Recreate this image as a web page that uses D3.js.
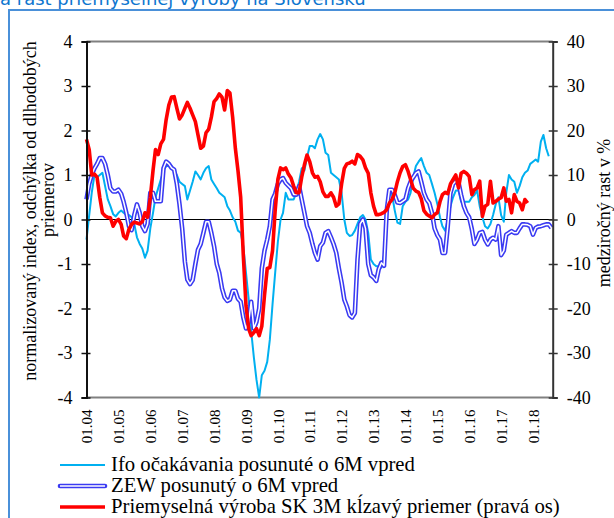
<!DOCTYPE html>
<html>
<head>
<meta charset="utf-8">
<script src="https://cdn.jsdelivr.net/npm/d3@7"></script>
<style>
  html, body { margin: 0; padding: 0; background: #fff; }
  svg { display: block; }
</style>
</head>
<body>
<svg id="chart" width="614" height="518"></svg>
<script>
// ---------------- DATA ----------------
const titleText = "a rast priemyselnej výroby na Slovensku";
const startMonth = "2004-01";
const seriesNames = [
  "Ifo očakávania posunuté o 6M vpred",
  "ZEW posunutý o 6M vpred",
  "Priemyselná výroba SK 3M kĺzavý priemer (pravá os)"
];
const leftAxisTitle = ["normalizovaný index, odchýlka od dlhodobých", "priemerov"];
const rightAxisTitle = "medziročný rast v %";
const leftTicks = [-4, -3, -2, -1, 0, 1, 2, 3, 4];
const rightTicks = [-40, -30, -20, -10, 0, 10, 20, 30, 40];
const xTickYears = [2004,2005,2006,2007,2008,2009,2010,2011,2012,2013,2014,2015,2016,2017,2018];

// Ifo expectations (monthly, from 01.04)
const ifo = [
 -0.45,0.1,0.6,1.0,0.95,1.0,1.05,0.75,0.45,0.3,0.12,0.07,
 0.15,0.2,0.15,0.1,0.1,0.05,-0.1,-0.4,-0.55,-0.65,-0.86,-0.7,
 -0.2,0.15,0.5,0.7,0.9,1.1,1.2,1.2,1.2,1.1,1.0,0.85,
 0.8,0.75,0.45,0.65,0.85,1.08,1.0,0.9,1.05,1.15,1.2,0.9,
 0.8,0.7,0.6,0.55,0.5,0.3,0.2,0.05,-0.05,-0.25,-0.3,-0.6,
 -1.2,-1.8,-2.5,-3.1,-3.6,-4.0,-3.5,-3.4,-3.2,-2.7,-1.9,-1.2,
 -0.5,0.0,0.15,0.6,0.45,0.45,0.45,0.6,0.85,1.15,1.1,1.4,
 1.65,1.65,1.6,1.8,1.92,1.8,1.5,1.45,1.05,1.0,0.95,0.9,
 0.6,0.0,-0.3,-0.37,-0.35,-0.25,-0.1,0.05,0.1,0.0,-0.3,-0.9,
 -1.0,-1.05,-1.05,-1.08,-0.8,0.2,0.65,0.55,0.2,-0.07,-0.1,0.3,
 0.4,0.45,0.6,0.95,1.2,1.3,1.38,1.2,1.05,1.0,0.8,0.6,
 0.35,0.05,-0.15,-0.25,0.0,0.3,0.5,0.65,0.65,0.4,0.4,0.4,
 0.4,0.5,0.55,0.65,0.3,0.05,-0.15,-0.2,-0.1,0.1,0.35,0.5,
 0.1,-0.05,0.6,1.0,0.9,0.85,0.6,0.75,0.95,1.05,1.1,1.25,
 1.3,1.35,1.3,1.75,1.9,1.6,1.42
];

// ZEW (monthly, from 01.04)
const zew = [
 0.45,0.8,1.0,1.15,1.25,1.38,1.38,1.25,1.0,0.7,0.63,0.63,
 0.67,0.58,0.4,0.15,-0.15,-0.24,0.1,0.34,0.15,-0.15,-0.26,-0.1,
 0.6,0.6,0.41,0.41,0.41,1.15,1.3,1.25,1.16,1.12,0.8,0.35,
 -0.2,-0.95,-1.35,-1.45,-1.36,-1.0,-0.68,-0.55,-0.3,-0.05,-0.05,-0.3,
 -0.6,-1.0,-1.2,-1.55,-1.75,-1.83,-1.8,-1.6,-1.6,-1.78,-1.85,-2.2,
 -2.45,-2.3,-1.85,-2.45,-2.3,-2.0,-1.1,-0.7,-0.45,-0.15,0.45,0.58,
 0.8,0.9,0.93,0.82,0.76,0.7,0.56,0.56,0.75,0.45,0.15,-0.15,
 -0.3,-0.55,-0.75,-0.9,-0.6,-0.52,-0.3,-0.26,-0.4,-0.55,-0.75,-1.1,
 -1.42,-1.8,-1.95,-2.15,-2.2,-2.1,-0.9,-0.1,0.0,-0.2,-1.0,-1.25,
 -1.3,-1.38,-1.12,-0.97,-1.04,0.2,0.67,0.67,0.55,0.38,0.37,0.41,
 0.45,0.7,0.85,0.95,1.04,1.08,0.85,0.6,0.45,0.37,0.15,-0.2,
 -0.35,-0.45,-0.75,-0.75,-0.15,0.6,0.8,0.86,0.83,0.55,0.3,0.15,
 0.05,-0.22,-0.55,-0.45,-0.3,-0.28,-0.45,-0.56,-0.45,-0.41,-0.45,-0.15,
 -0.8,-0.7,-0.34,-0.3,-0.26,-0.3,-0.3,-0.2,-0.11,-0.11,-0.12,-0.15,
 -0.34,-0.19,-0.16,-0.15,-0.13,-0.11,-0.11,-0.19
];

// Industrial production SK, 3M moving average, y/y % (right axis)
const prod = [
 18,15.7,10,10.2,9.5,5,1.5,0.8,0.5,0.4,-1.5,-0.4,
 0.0,-1.1,-3.7,-4.3,-2.2,-1.1,-0.6,-0.8,-1.0,-0.5,1.5,0.5,
 5,11,15.7,14.6,17,18,22.4,25.7,27.5,27.6,25,22.6,
 23.5,25,26.3,25,23.5,22,19,16,16.5,19.5,20.3,23,
 26.5,27.2,28.2,27.5,24.6,29,28.4,23,16,11,5,-8,
 -19.4,-24.6,-26.1,-25.4,-24.5,-26.1,-24,-17,-11,-10.8,-7,2,
 9,11.6,11.2,11.6,10.2,9.3,7.5,6,6,9.5,12.3,14.5,
 13,10.5,9.5,9.7,8.5,6.2,5.2,5.2,6,5,3,3.5,
 8,11.5,12.5,12.7,13.1,12.5,14.6,14.2,13.4,11.6,10.4,6,
 3,1.1,1.1,1.3,1.6,2.2,3.7,4.5,6,8.5,10.5,11.9,
 12.3,10.8,9,7,6.4,6.1,4.7,2,1.2,0.8,0.4,1.1,
 1.5,4,5.6,6.1,5.8,8,9,10,7.1,10.4,10.8,10.4,
 9.7,5.6,6.7,7.1,8.6,0.7,3,3.4,8.6,3.7,4.1,4.6,
 4.9,7.1,4.1,4.5,1.5,5.6,4.1,3.7,2.2,4.5,3.7
];

// ---------------- CHART ----------------
const svg = d3.select("#chart");
const serif = "'Liberation Serif','Times New Roman',serif";

const plot = { left: 86.5, right: 552.7, top: 41.5, bottom: 397.5 };
const parseM = d3.timeParse("%Y-%m");
const t0 = parseM(startMonth);
const monthDate = i => d3.timeMonth.offset(t0, i);

const x = d3.scaleTime()
  .domain([t0, d3.timeDay.offset(parseM("2018-08"), 14)])
  .range([plot.left, plot.right]);
const yL = d3.scaleLinear().domain([-4, 4]).range([plot.bottom, plot.top]);
const yR = d3.scaleLinear().domain([-40, 40]).range([plot.bottom, plot.top]);
const fmt = d => String(d);

// frame & title
svg.append("text")
  .attr("x", 0).attr("y", 5)
  .attr("font-family", "'DejaVu Sans',Verdana,sans-serif")
  .attr("font-size", 18)
  .attr("fill", "#0E76CF")
  .text(titleText);
svg.append("path")
  .attr("d", "M9,518 V10 H614")
  .attr("fill", "none").attr("stroke", "#4A90D9").attr("stroke-width", 2);

// plot border top/bottom (grey)
svg.append("line").attr("x1", plot.left).attr("x2", plot.right)
  .attr("y1", plot.top).attr("y2", plot.top)
  .attr("stroke", "#808080").attr("stroke-width", 2);
svg.append("line").attr("x1", plot.left).attr("x2", plot.right)
  .attr("y1", plot.bottom).attr("y2", plot.bottom)
  .attr("stroke", "#808080").attr("stroke-width", 2);

// zero line
svg.append("line").attr("x1", plot.left).attr("x2", plot.right)
  .attr("y1", yL(0)).attr("y2", yL(0))
  .attr("stroke", "#000").attr("stroke-width", 1);

// series
const lineL = d3.line().x((d, i) => x(monthDate(i))).y(d => yL(d));
const lineR = d3.line().x((d, i) => x(monthDate(i))).y(d => yR(d));

const g = svg.append("g");
g.append("path").datum(ifo).attr("d", lineL)
  .attr("fill", "none").attr("stroke", "#00B0F0").attr("stroke-width", 2)
  .attr("stroke-linejoin", "round");
g.append("path").datum(zew).attr("d", lineL)
  .attr("fill", "none").attr("stroke", "#3A3AF2").attr("stroke-width", 4.6)
  .attr("stroke-linejoin", "round");
g.append("path").datum(zew).attr("d", lineL)
  .attr("fill", "none").attr("stroke", "#fff").attr("stroke-width", 1.5)
  .attr("stroke-linejoin", "round");
g.append("path").datum(prod).attr("d", lineR)
  .attr("fill", "none").attr("stroke", "#FF0000").attr("stroke-width", 3.6)
  .attr("stroke-linejoin", "round");

// left axis
const axL = svg.append("g").attr("transform", `translate(${plot.left},0)`)
  .call(d3.axisLeft(yL).tickValues(leftTicks).tickSize(5).tickPadding(9).tickFormat(fmt));
axL.select(".domain").attr("stroke", "#111").attr("stroke-width", 2);
axL.selectAll(".tick line").attr("x2", -5).attr("x1", 4).attr("stroke", "#111").attr("stroke-width", 1.5);
axL.selectAll(".tick text").attr("font-family", serif).attr("font-size", 18).attr("fill", "#000");

// right axis
const axR = svg.append("g").attr("transform", `translate(${plot.right},0)`)
  .call(d3.axisRight(yR).tickValues(rightTicks).tickSize(5).tickPadding(9).tickFormat(fmt));
axR.select(".domain").attr("stroke", "#333").attr("stroke-width", 2);
axR.selectAll(".tick line").attr("x1", -4).attr("x2", 5).attr("stroke", "#333").attr("stroke-width", 1.5);
axR.selectAll(".tick text").attr("font-family", serif).attr("font-size", 18).attr("fill", "#000");

// x axis labels
const axX = svg.append("g").attr("transform", `translate(0,${plot.bottom})`)
  .call(d3.axisBottom(x).tickValues(xTickYears.map(y => new Date(y, 0, 1)))
    .tickSize(0).tickFormat(d3.timeFormat("%m.%y")));
axX.select(".domain").remove();
axX.selectAll(".tick text")
  .attr("font-family", serif).attr("font-size", 15).attr("fill", "#000")
  .attr("transform", "rotate(-90)")
  .attr("x", -12).attr("y", 0).attr("dy", "0.35em")
  .attr("text-anchor", "end");

// axis titles
svg.append("text")
  .attr("transform", "translate(36,211) rotate(-90)")
  .attr("text-anchor", "middle")
  .attr("font-family", serif).attr("font-size", 18).attr("fill", "#000")
  .text(leftAxisTitle[0]);
svg.append("text")
  .attr("transform", "translate(54,200) rotate(-90)")
  .attr("text-anchor", "middle")
  .attr("font-family", serif).attr("font-size", 18).attr("fill", "#000")
  .text(leftAxisTitle[1]);

svg.append("text")
  .attr("transform", "translate(610,213) rotate(-90)")
  .attr("text-anchor", "middle")
  .attr("font-family", serif).attr("font-size", 18).attr("fill", "#000")
  .text(rightAxisTitle);

// legend
const legY = [465, 486, 507];
const lg = svg.append("g");
lg.append("line").attr("x1", 60).attr("x2", 105).attr("y1", legY[0]).attr("y2", legY[0])
  .attr("stroke", "#00B0F0").attr("stroke-width", 2);
lg.append("line").attr("x1", 60).attr("x2", 105).attr("y1", legY[1]).attr("y2", legY[1])
  .attr("stroke", "#3A3AF2").attr("stroke-width", 4.6).attr("stroke-linecap", "round");
lg.append("line").attr("x1", 60).attr("x2", 105).attr("y1", legY[1]).attr("y2", legY[1])
  .attr("stroke", "#fff").attr("stroke-width", 1.5);
lg.append("line").attr("x1", 60).attr("x2", 105).attr("y1", legY[2]).attr("y2", legY[2])
  .attr("stroke", "#FF0000").attr("stroke-width", 3.6);
seriesNames.forEach((s, i) => {
  lg.append("text").attr("x", 111).attr("y", legY[i] + 6)
    .attr("font-family", serif).attr("font-size", 20.7).attr("fill", "#000")
    .text(s);
});
</script>
</body>
</html>
